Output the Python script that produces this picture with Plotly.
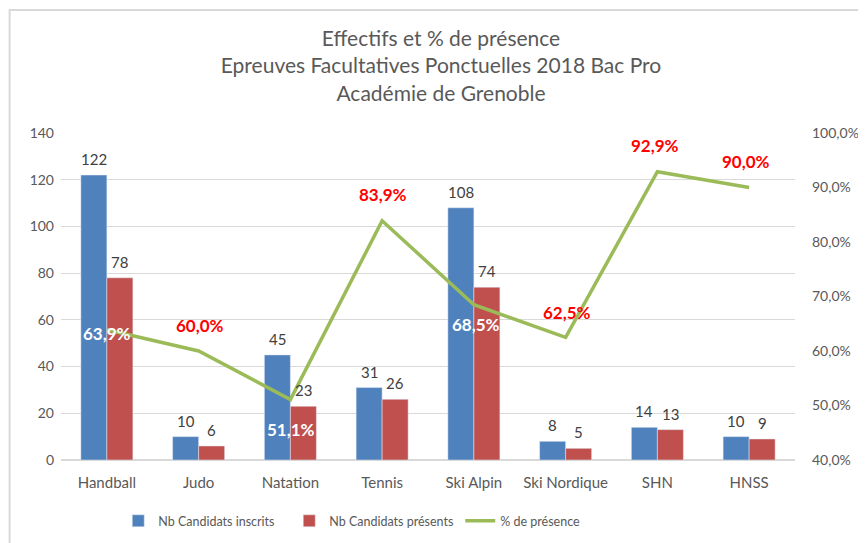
import plotly.graph_objects as go

# Data
categories = ["Handball", "Judo", "Natation", "Tennis", "Ski Alpin", "Ski Nordique", "SHN", "HNSS"]
inscrits = [122, 10, 45, 31, 108, 8, 14, 10]
presents = [78, 6, 23, 26, 74, 5, 13, 9]
presence = [0.639, 0.600, 0.511, 0.839, 0.685, 0.625, 0.929, 0.900]

# label style per point: (colour, xshift, yshift)
label_style = [
    ("white", 0, -4),
    ("red", 1, 26),
    ("white", 1, -30),
    ("red", 1, 26),
    ("white", 2, -20),
    ("red", 1, 25),
    ("red", -2, 26),
    ("red", -3, 26),
]

blue = "#4F81BD"
red = "#C0504D"
green = "#9BBB59"
grey = "#595959"
font = "Lato, 'Open Sans', sans-serif"

fig = go.Figure()

fig.add_trace(go.Bar(x=categories, y=inscrits, name="Nb Candidats inscrits", marker_color=blue))
fig.add_trace(go.Bar(x=categories, y=presents, name="Nb Candidats présents", marker_color=red))
fig.add_trace(go.Scatter(
    x=categories, y=presence, name="% de présence", yaxis="y2",
    mode="lines", line=dict(color=green, width=3.5),
))

# bar value labels
for vals, dx in [(inscrits, -13), (presents, 13)]:
    for cat, v in zip(categories, vals):
        fig.add_annotation(x=cat, y=v, xref="x", yref="y", text=str(v),
                           showarrow=False, xshift=dx, yshift=16,
                           font=dict(color="#404040", size=15, family=font))

# percentage labels
for cat, p, (col, dx, dy) in zip(categories, presence, label_style):
    fig.add_annotation(
        x=cat, y=p, yref="y2", xref="x",
        text="<b>" + f"{p*100:.1f}%".replace(".", ",") + "</b>",
        showarrow=False, xshift=dx, yshift=dy,
        font=dict(color=col if col == "white" else "#FF0000", size=17, family=font),
    )

fig.update_layout(
    width=866, height=543,
    margin=dict(l=53, r=79, t=125, b=91),
    paper_bgcolor="white", plot_bgcolor="white",
    font=dict(family=font, color=grey, size=14),
    separators=",\u00a0",
    title=dict(
        text="Effectifs et % de présence<br>Epreuves Facultatives Ponctuelles 2018 Bac Pro<br>Académie de Grenoble",
        x=0.5, xanchor="center", y=0.93, yanchor="top",
        font=dict(size=21, color=grey, family=font),
    ),
    barmode="group", bargap=0.433, bargroupgap=0,
    xaxis=dict(showgrid=False, showline=False, ticks="", tickfont=dict(size=15, color=grey),
               ticklabelstandoff=12),
    yaxis=dict(range=[0, 140], dtick=20, gridcolor="#D9D9D9", zeroline=True,
               zerolinecolor="#D9D9D9", tickfont=dict(size=14, color=grey),
               ticklabelstandoff=6),
    yaxis2=dict(range=[0.4, 1.0], dtick=0.1, tickformat=".1%", overlaying="y", side="right",
                showgrid=False, tickfont=dict(size=14, color=grey), ticklabelstandoff=16),
    legend=dict(orientation="h", x=0.078, xanchor="left", y=-0.187, yanchor="middle",
                font=dict(size=12.5, color=grey), traceorder="normal",
                entrywidth=126, entrywidthmode="pixels"),
    showlegend=True,
)

# light outer border of the chart area
fig.add_shape(type="rect", xref="paper", yref="paper",
              x0=-0.07, x1=1.12, y0=-0.30, y1=1.376,
              line=dict(color="#D9D9D9", width=2))

fig.write_html("out.html")
